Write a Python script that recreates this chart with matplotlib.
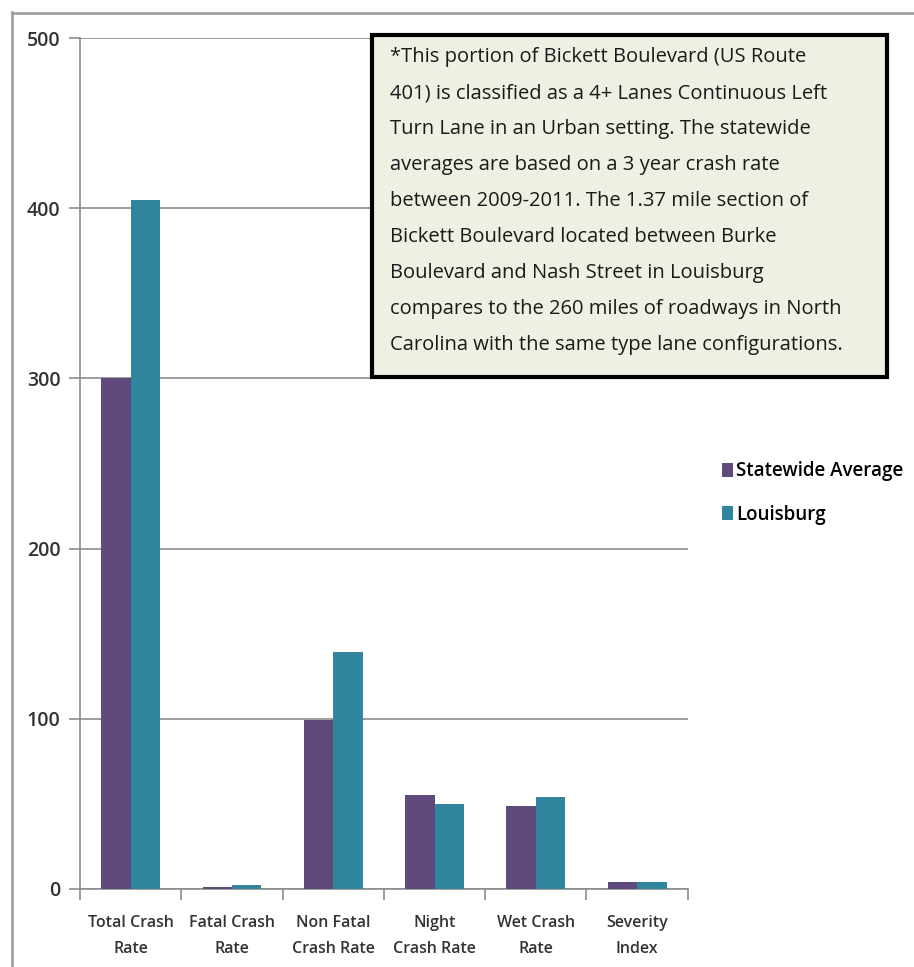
import matplotlib.pyplot as plt
import numpy as np
from matplotlib.patches import Rectangle
from matplotlib.lines import Line2D

categories = ['Total Crash\nRate', 'Fatal Crash\nRate', 'Non Fatal\nCrash Rate',
              'Night\nCrash Rate', 'Wet Crash\nRate', 'Severity\nIndex']
statewide = [300, 1.3, 99, 55, 49, 4]
louisburg = [405, 2.1, 139, 50, 54, 4]
series_names = ['Statewide Average', 'Louisburg']
note = ("*This portion of Bickett Boulevard (US Route\n"
        "401) is classified as a 4+ Lanes Continuous Left\n"
        "Turn Lane in an Urban setting. The statewide\n"
        "averages are based on a 3 year crash rate\n"
        "between 2009-2011. The 1.37 mile section of\n"
        "Bickett Boulevard located between Burke\n"
        "Boulevard and Nash Street in Louisburg\n"
        "compares to the 260 miles of roadways in North\n"
        "Carolina with the same type lane configurations.")

plt.rcParams['font.family'] = ['Open Sans', 'DejaVu Sans']

purple = '#604a7b'
teal = '#31859c'
grid_grey = '#8c8c8c'

fig = plt.figure(figsize=(9.14, 9.67), dpi=100)
ax = fig.add_axes([0.0875, 0.0807, 0.665, 0.88])

x = np.arange(len(categories))
w = 0.29
ax.bar(x - w / 2, statewide, w, color=purple, label=series_names[0], zorder=3)
ax.bar(x + w / 2, louisburg, w, color=teal, label=series_names[1], zorder=3)

ax.set_xlim(-0.5, len(categories) - 0.5)
ax.set_ylim(0, 500)
ax.set_yticks(range(0, 501, 100))
ax.yaxis.grid(True, color=grid_grey, linewidth=1.2, zorder=0)
ax.set_axisbelow(True)

ax.set_xticks(x)
ax.set_xticklabels(categories, fontsize=11.5, fontweight='semibold', color='#333333',
                   linespacing=1.9)
ax.set_xticks(np.arange(-0.5, len(categories)), minor=True)
ax.tick_params(axis='x', which='major', length=0, pad=18.5)
ax.tick_params(axis='x', which='minor', length=8, width=1.2, color=grid_grey)
ax.tick_params(axis='y', length=8, width=1.2, color=grid_grey, labelsize=14,
               labelcolor='#333333', pad=6)
for lbl in ax.get_yticklabels():
    lbl.set_fontweight('semibold')

for s in ['top', 'right']:
    ax.spines[s].set_visible(False)
for s in ['left', 'bottom']:
    ax.spines[s].set_color(grid_grey)
    ax.spines[s].set_linewidth(1.2)

# note box
fig.patches.append(Rectangle((372 / 914, 1 - 377 / 967), 515 / 914, 342 / 967,
                             transform=fig.transFigure, facecolor='#eef0e4',
                             edgecolor='black', linewidth=3, zorder=4))
fig.text(390 / 914, 1 - 201 / 967, note, ha='left', va='center', fontsize=14.5,
         linespacing=2.06, color='#1a1a1a', zorder=5)

fig.legend(loc='upper left', bbox_to_anchor=(0.79, 0.523), frameon=False,
           prop={'size': 13.5, 'weight': 'semibold'}, handlelength=0.6,
           handleheight=0.75, handletextpad=0.15, labelspacing=1.25,
           borderaxespad=0, borderpad=0)

# outer frame (top and left edges only)
fig.add_artist(Line2D([12 / 914, 12 / 914], [0, 1 - 12 / 967],
                      transform=fig.transFigure, color='#9a9a9a', linewidth=1.8,
                      zorder=10))
fig.add_artist(Line2D([12 / 914, 1.0], [1 - 12.5 / 967, 1 - 12.5 / 967],
                      transform=fig.transFigure, color='#9a9a9a', linewidth=1.8,
                      zorder=10))

fig.savefig('out.png', dpi=100)
